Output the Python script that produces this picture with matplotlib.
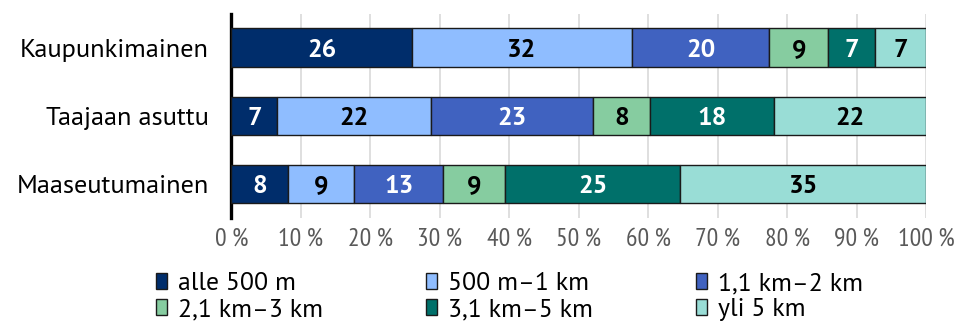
import matplotlib
matplotlib.use("Agg")
import matplotlib.pyplot as plt
from matplotlib.legend import Legend
import numpy as np

MAIN = ['PT Sans', 'Open Sans', 'DejaVu Sans']
COND = ['PT Sans Narrow', 'Fira Sans Condensed', 'Open Sans', 'DejaVu Sans']
plt.rcParams['font.family'] = MAIN

categories = ["Kaupunkimainen", "Taajaan asuttu", "Maaseutumainen"]
series = ["alle 500 m", "500 m\u20131 km", "1,1 km\u20132 km", "2,1 km\u20133 km", "3,1 km\u20135 km", "yli 5 km"]
# shares (%)
alle_500 = [26.0, 6.6, 8.2]
m500_1km = [31.6, 22.1, 9.4]
km1_2 = [19.8, 23.3, 12.9]
km2_3 = [8.5, 8.3, 8.9]
km3_5 = [6.7, 17.8, 25.2]
yli_5 = [7.4, 21.9, 35.4]
# printed labels
labels_alle_500 = ["26", "7", "8"]
labels_m500_1km = ["32", "22", "9"]
labels_km1_2 = ["20", "23", "13"]
labels_km2_3 = ["9", "8", "9"]
labels_km3_5 = ["7", "18", "25"]
labels_yli_5 = ["7", "22", "35"]
values = [alle_500, m500_1km, km1_2, km2_3, km3_5, yli_5]
labels = [labels_alle_500, labels_m500_1km, labels_km1_2, labels_km2_3, labels_km3_5, labels_yli_5]
colors = ["#002d6b", "#8fbdff", "#4062c0", "#86cca0", "#00706a", "#99ddd6"]
text_colors = ["white", "black", "white", "black", "white", "black"]
xticks = [0, 10, 20, 30, 40, 50, 60, 70, 80, 90, 100]

fig = plt.figure(figsize=(9.61, 3.27), dpi=100)
ax = fig.add_axes([0.2408, 0.333, 0.7232, 0.625])

y = np.arange(len(categories))
left = np.zeros(len(categories))
handles = []
for s, v, lab, c, tc in zip(series, values, labels, colors, text_colors):
    v = np.array(v, dtype=float)
    bars = ax.barh(y, v, left=left, height=0.57, color=c, edgecolor="#1a1a1a", linewidth=1.0, label=s, zorder=3)
    handles.append(bars)
    for yi, (l, w) in enumerate(zip(left, v)):
        ax.text(l + w / 2, yi, lab[yi], ha="center", va="center_baseline", color=tc,
                fontsize=18.5, fontweight="bold", zorder=4)
    left = left + v

ax.set_xlim(0, 100)
ax.set_ylim(2.5, -0.5)
ax.set_yticks(y)
ax.set_yticklabels(categories, fontsize=19, color="black")
ax.set_xticks(xticks)
ax.set_xticklabels([f"{t}\u00a0%" for t in xticks], fontsize=18.5, color="#595959", family=COND)
ax.tick_params(axis="both", length=0)
ax.tick_params(axis="x", pad=7)
ax.tick_params(axis="y", pad=16)
ax.xaxis.grid(True, color="#d9d9d9", linewidth=1.2, zorder=0)
ax.set_axisbelow(True)
for sp in ["top", "right", "bottom"]:
    ax.spines[sp].set_visible(False)
ax.spines["left"].set_linewidth(2.4)
ax.spines["left"].set_color("black")

# legend: three columns, two rows
col_x = [0.162, 0.443, 0.724]
for ci, x0 in enumerate(col_x):
    idx = [ci, ci + 3]
    leg = Legend(fig, [handles[i] for i in idx], [series[i] for i in idx],
                 loc="upper left", bbox_to_anchor=(x0, 0.168), bbox_transform=fig.transFigure,
                 frameon=False, handlelength=0.45, handleheight=0.62,
                 handletextpad=0.4, labelspacing=0.12, borderpad=0, borderaxespad=0,
                 prop={'family': MAIN, 'size': 18.5})
    fig.add_artist(leg)

fig.savefig("out.png", dpi=100)
